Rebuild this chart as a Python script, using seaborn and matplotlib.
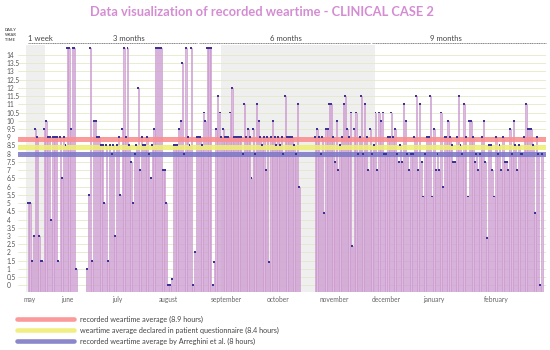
import numpy as np
import pandas as pd
import matplotlib
matplotlib.use("Agg")
import matplotlib.pyplot as plt
from matplotlib.lines import Line2D
import matplotlib.transforms as mtransforms
import seaborn as sns

nan = np.nan
# daily recorded weartime (hours); nan = no data recorded
part1 = [5, 5, 1.5, 3, 9.5, 9, 3, 1.5, 1.5, 9.5, 10, 9, 9, 4, 9, 9, 9, 1.5, 9, 6.5,
         9, 8.5, 14.4, 14.4, 9.5, 14.4, 14.4, 1,
         nan, nan, nan, nan, nan,
         1, 5.5, 14.4, 1.5, 10, 10, 9, 9, 8.5, 8.5, 5, 8.5, 1.5, 8.5, 8, 8.5, 3, 8.5,
         9, 5.5, 9.5, 14.4]
part2 = [9, 14.4, 8.5, 7.5, 5, 8, 8.5, 12, 7, 9, 8.5, 8.5, 9, 8, 6.5, 8.5, 9.5,
         14.4, 14.4, 14.4, 14.4, 7, 7, 5, 0, 0, 0.4, 8.5, 8.5, 8.5, 9.5, 10, 13.5, 8,
         14.4, 9, 8.5, 14.4, 0, 2, 9, 9, 9, 8.5, 10.5, 10, 14.4, 14.4, 14.4, 0, 1.4,
         9.5, 11.5, 10.5, 9, 9.5, 9]
part3 = [9, 9, 10.5, 12, 9, 9, 9, 9, 9, 8, 11, 9, 9.5, 9, 6.5, 9.5, 8, 11, 10, 9,
         8.5, 9, 7, 9, 1.4, 9, 10, 9, 8.5, 9, 8.5, 9, 8, 11.5, 9, 9, 9, 9, 8.5, 8,
         11, 6,
         nan, nan, nan, nan, nan, nan, nan, nan,
         9, 9.5, 9, 8, 9, 4.4, 9.5, 9.5, 11, 11]
part4 = [9, 7.5, 10, 7, 8.5, 9, 11, 11.5, 9.5, 9, 10.5, 2.4, 9.5, 10.5, 8, 9, 11.5,
         8, 11, 9, 7, 9.5, 8, 8.5, 10.5, 7, 10.5, 10, 10.5, 8, 8, 9, 9, 10.5, 9, 9.5,
         8, 7.5, 8.5, 7.5, 11, 10, 8, 7, 8, 8, 9, 11.5, 7, 11, 7.5, 5.4, 8, 9, 9,
         11.5, 5.4, 9.5, 7, 8]
part5 = [7, 10.5, 6, 9, 9, 10, 9, 8.5, 7.5, 7.5, 9, 11.5, 8.5, 8, 11, 9, 5.4, 10,
         10, 9, 7.5, 8, 7, 8, 9, 10, 7.5, 2.9, 8.5, 8.5, 7, 5.4, 9, 8, 8.5, 7, 9,
         7.5, 7.5, 7, 9.5, 8, 10, 8.5, 7, 8.5, 8, 8, 9, 11, 9.5, 9.5, 9.5, 8.5, 4.4,
         9, 8, 0, 8]
weartime = part1 + part2 + part3 + part4 + part5

month_labels = ["may", "june", "july", "august", "september", "october",
                "november", "december", "january", "february"]
month_days = [0.5, 22, 50.5, 79, 112, 141, 173, 202, 229, 264]

avg_recorded = 8.9
avg_declared = 8.4
avg_literature = 8.0
legend_labels = ["recorded weartime average (8.9 hours)",
                 "weartime average declared in patient questionnaire (8.4 hours)",
                 "recorded weartime average by Arreghini et al. (8 hours)"]
period_labels = ["1 week", "3 months", "6 months", "9 months"]
period_days = [0, 48, 136.5, 227]
period_spans = [(-0.2, 95.3), (96.4, 193), (194.2, 292)]
gray_spans = [(-1.3, 9.4), (109, 196)]

# ---------------------------------------------------------------
sns.set_theme(style="white")
plt.rcParams['font.family'] = ['Lato', 'DejaVu Sans']

W, H = 550, 350
fig = plt.figure(figsize=(5.5, 3.5), dpi=100)
ax_l, ax_r, ax_t, ax_b = 18, 546, 45, 292
ax = fig.add_axes([ax_l / W, 1 - ax_b / H, (ax_r - ax_l) / W, (ax_b - ax_t) / H])

df = pd.DataFrame({"day": np.arange(len(weartime)), "hours": weartime})
N = len(df)
first_x, last_x = 28.3, 542.0
step = (last_x - first_x) / (N - 1)
ax.set_xlim(-(first_x - ax_l) / step, (ax_r - first_x) / step)
ybot, ytop = -0.4, 14.6
ax.set_ylim(ybot, ytop)

for a, b in gray_spans:
    ax.axvspan(a, b, color="#efefef", lw=0, zorder=0)

yt = np.arange(0, 14.01, 0.5)
for v in yt:
    ax.axhline(v, color="#e2ebc6", lw=0.6, zorder=0.5)

d = df.dropna()
ax.bar(d["day"], d["hours"] - ybot, bottom=ybot, width=0.7,
       color="#ddb9de", edgecolor="#c792cb", linewidth=0.4, zorder=2)

ax.axhline(avg_recorded, color="#fb8f8f", lw=3.6, alpha=0.88, zorder=3)
ax.axhline(avg_declared, color="#f0ee74", lw=3.6, alpha=0.88, zorder=3)
ax.axhline(avg_literature, color="#7d7ac6", lw=3.6, alpha=0.88, zorder=3)

sns.scatterplot(data=d, x="day", y="hours", marker="s", s=2.0, color="#3b3494",
                edgecolor="none", linewidth=0, ax=ax, zorder=4, legend=False)

ax.set_xlabel("")
ax.set_ylabel("")
for s in ax.spines.values():
    s.set_visible(False)
ax.set_yticks(yt)
ax.set_yticklabels([("%g" % v) for v in yt], fontsize=4.8, color="#555555", ha="left")
ax.tick_params(axis="y", length=0, pad=8.3)
ax.set_xticks(month_days)
ax.set_xticklabels(month_labels, fontsize=4.8, color="#666666")
ax.tick_params(axis="x", length=0, pad=3)

# period annotations at top
trans = mtransforms.blended_transform_factory(ax.transData, ax.transAxes)
line_y = (ax_b - 43) / (ax_b - ax_t)
text_y = (ax_b - 38) / (ax_b - ax_t)
for a, b in period_spans:
    ax.plot([a, b], [line_y, line_y], transform=trans, color="#777777", lw=0.6,
            ls=(0, (1.5, 0.6)), clip_on=False)
for lbl, x in zip(period_labels, period_days):
    ax.text(x, text_y, lbl, transform=trans, fontsize=5.6, color="#444444",
            ha="left", va="center")

fig.text(5 / W, 1 - 35 / H, "DAILY\nWEAR\nTIME", fontsize=2.9, color="#555555",
         ha="left", va="center", linespacing=1.25, weight="bold")

fig.text(262 / W, 1 - 12 / H, "Data visualization of recorded weartime - CLINICAL CASE 2",
         ha="center", va="center", fontsize=9.3, weight="bold", color="#d48dd2")

# legend
leg_colors = ["#fb8f8f", "#f0ee74", "#7d7ac6"]
leg_y = [319, 330, 341]
for lbl, col, y in zip(legend_labels, leg_colors, leg_y):
    fig.add_artist(Line2D([17 / W, 74 / W], [1 - y / H] * 2, transform=fig.transFigure,
                          color=col, lw=3.3, alpha=0.9))
    fig.text(80 / W, 1 - y / H, lbl, fontsize=5.2, color="#444444", ha="left", va="center")

fig.savefig("out.png", dpi=100)
